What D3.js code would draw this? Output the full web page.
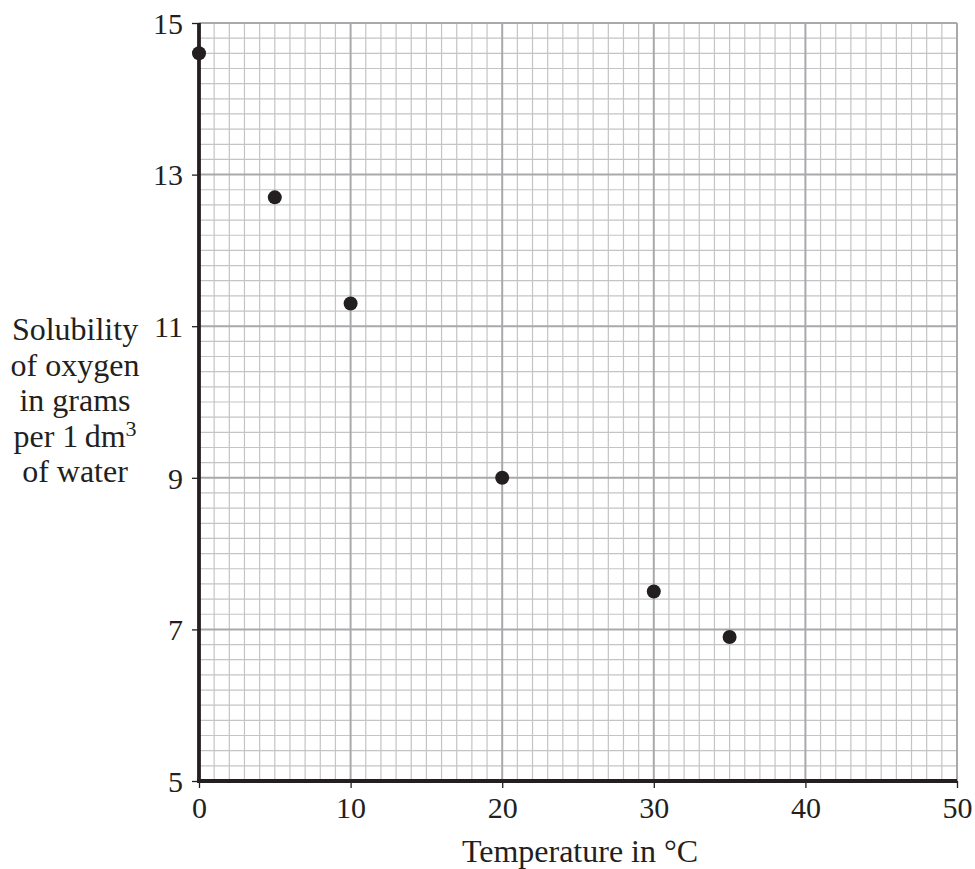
<!DOCTYPE html>
<html><head><meta charset="utf-8">
<script src="https://cdn.jsdelivr.net/npm/d3@7"></script>
<style>body{margin:0;background:#fff}svg{display:block}text{font-family:"Liberation Serif","Times New Roman",serif;fill:#231f20}</style>
</head><body><svg id="c" width="975" height="869"></svg>
<script>
const temperature = [0, 5, 10, 20, 30, 35];
const solubility = [14.6, 12.7, 11.3, 9.0, 7.5, 6.9];
const xTicks = [0, 10, 20, 30, 40, 50];
const yTicks = [5, 7, 9, 11, 13, 15];
const xTitle = "Temperature in °C";
const yTitleLines = ["Solubility", "of oxygen", "in grams", "per 1\u2009dm", "of water"];

const svg = d3.select("#c");
const x = d3.scaleLinear().domain([0, 50]).range([199, 957]);
const y = d3.scaleLinear().domain([5, 15]).range([781, 23]);

const g = svg.append("g");
// minor grid
g.selectAll(".vx").data(d3.range(0, 51, 1).filter(v => v % 10 !== 0)).join("line")
  .attr("x1", d => x(d)).attr("x2", d => x(d)).attr("y1", y(5)).attr("y2", y(15))
  .attr("stroke", "#c4c4c7").attr("stroke-width", 1.2);
g.selectAll(".hy").data(d3.range(0, 51, 1).map(i => 5 + i * 0.2).filter((v, i) => i % 10 !== 0)).join("line")
  .attr("y1", d => y(d)).attr("y2", d => y(d)).attr("x1", x(0)).attr("x2", x(50))
  .attr("stroke", "#c4c4c7").attr("stroke-width", 1.2);
// major grid
g.selectAll(".mx").data(xTicks.slice(1)).join("line")
  .attr("x1", d => x(d)).attr("x2", d => x(d)).attr("y1", y(5)).attr("y2", y(15))
  .attr("stroke", "#a9a9ad").attr("stroke-width", 2);
g.selectAll(".my").data(yTicks.slice(1)).join("line")
  .attr("y1", d => y(d)).attr("y2", d => y(d)).attr("x1", x(0)).attr("x2", x(50))
  .attr("stroke", "#a9a9ad").attr("stroke-width", 2);

// axes
const xAxis = d3.axisBottom(x).tickValues(xTicks).tickSize(7).tickPadding(9).tickFormat(d3.format("d"));
const yAxis = d3.axisLeft(y).tickValues(yTicks).tickSize(7).tickPadding(9).tickFormat(d3.format("d"));
const ax = svg.append("g").attr("transform", `translate(0,${y(5)})`).call(xAxis);
const ay = svg.append("g").attr("transform", `translate(${x(0)},0)`).call(yAxis);
[ax, ay].forEach(a => {
  a.attr("font-size", null).attr("font-family", null);
  a.select(".domain").remove();
  a.selectAll(".tick line").attr("stroke", "#231f20").attr("stroke-width", 1.3);
  a.selectAll(".tick text").style("font-size", "30px").style("font-family", "'Liberation Serif', serif").attr("fill", "#231f20");
});
ax.selectAll(".tick text").attr("dy", "0.71em");
ay.selectAll(".tick text").attr("dy", "0.34em");
svg.append("line").attr("x1", x(0)).attr("x2", x(0)).attr("y1", y(15)).attr("y2", y(5) + 1.75)
  .attr("stroke", "#231f20").attr("stroke-width", 3.8);
svg.append("line").attr("x1", x(0) - 1.75).attr("x2", x(50)).attr("y1", y(5)).attr("y2", y(5))
  .attr("stroke", "#231f20").attr("stroke-width", 3.8);

// points
svg.selectAll(".pt").data(temperature.map((t, i) => [t, solubility[i]])).join("circle")
  .attr("cx", d => x(d[0])).attr("cy", d => y(d[1])).attr("r", 7).attr("fill", "#231f20");

// titles
svg.append("text").attr("x", 580).attr("y", 862).attr("text-anchor", "middle").style("font-size", "32px").text(xTitle);
const yt = svg.append("text").attr("text-anchor", "middle").style("font-size", "32px");
yTitleLines.forEach((l, i) => {
  const t = yt.append("tspan").attr("x", 75).attr("y", 340 + i * 35.5).text(l);
  if (i === 3) t.append("tspan").attr("dy", -11).style("font-size", "22px").text("3");
});
</script></body></html>
